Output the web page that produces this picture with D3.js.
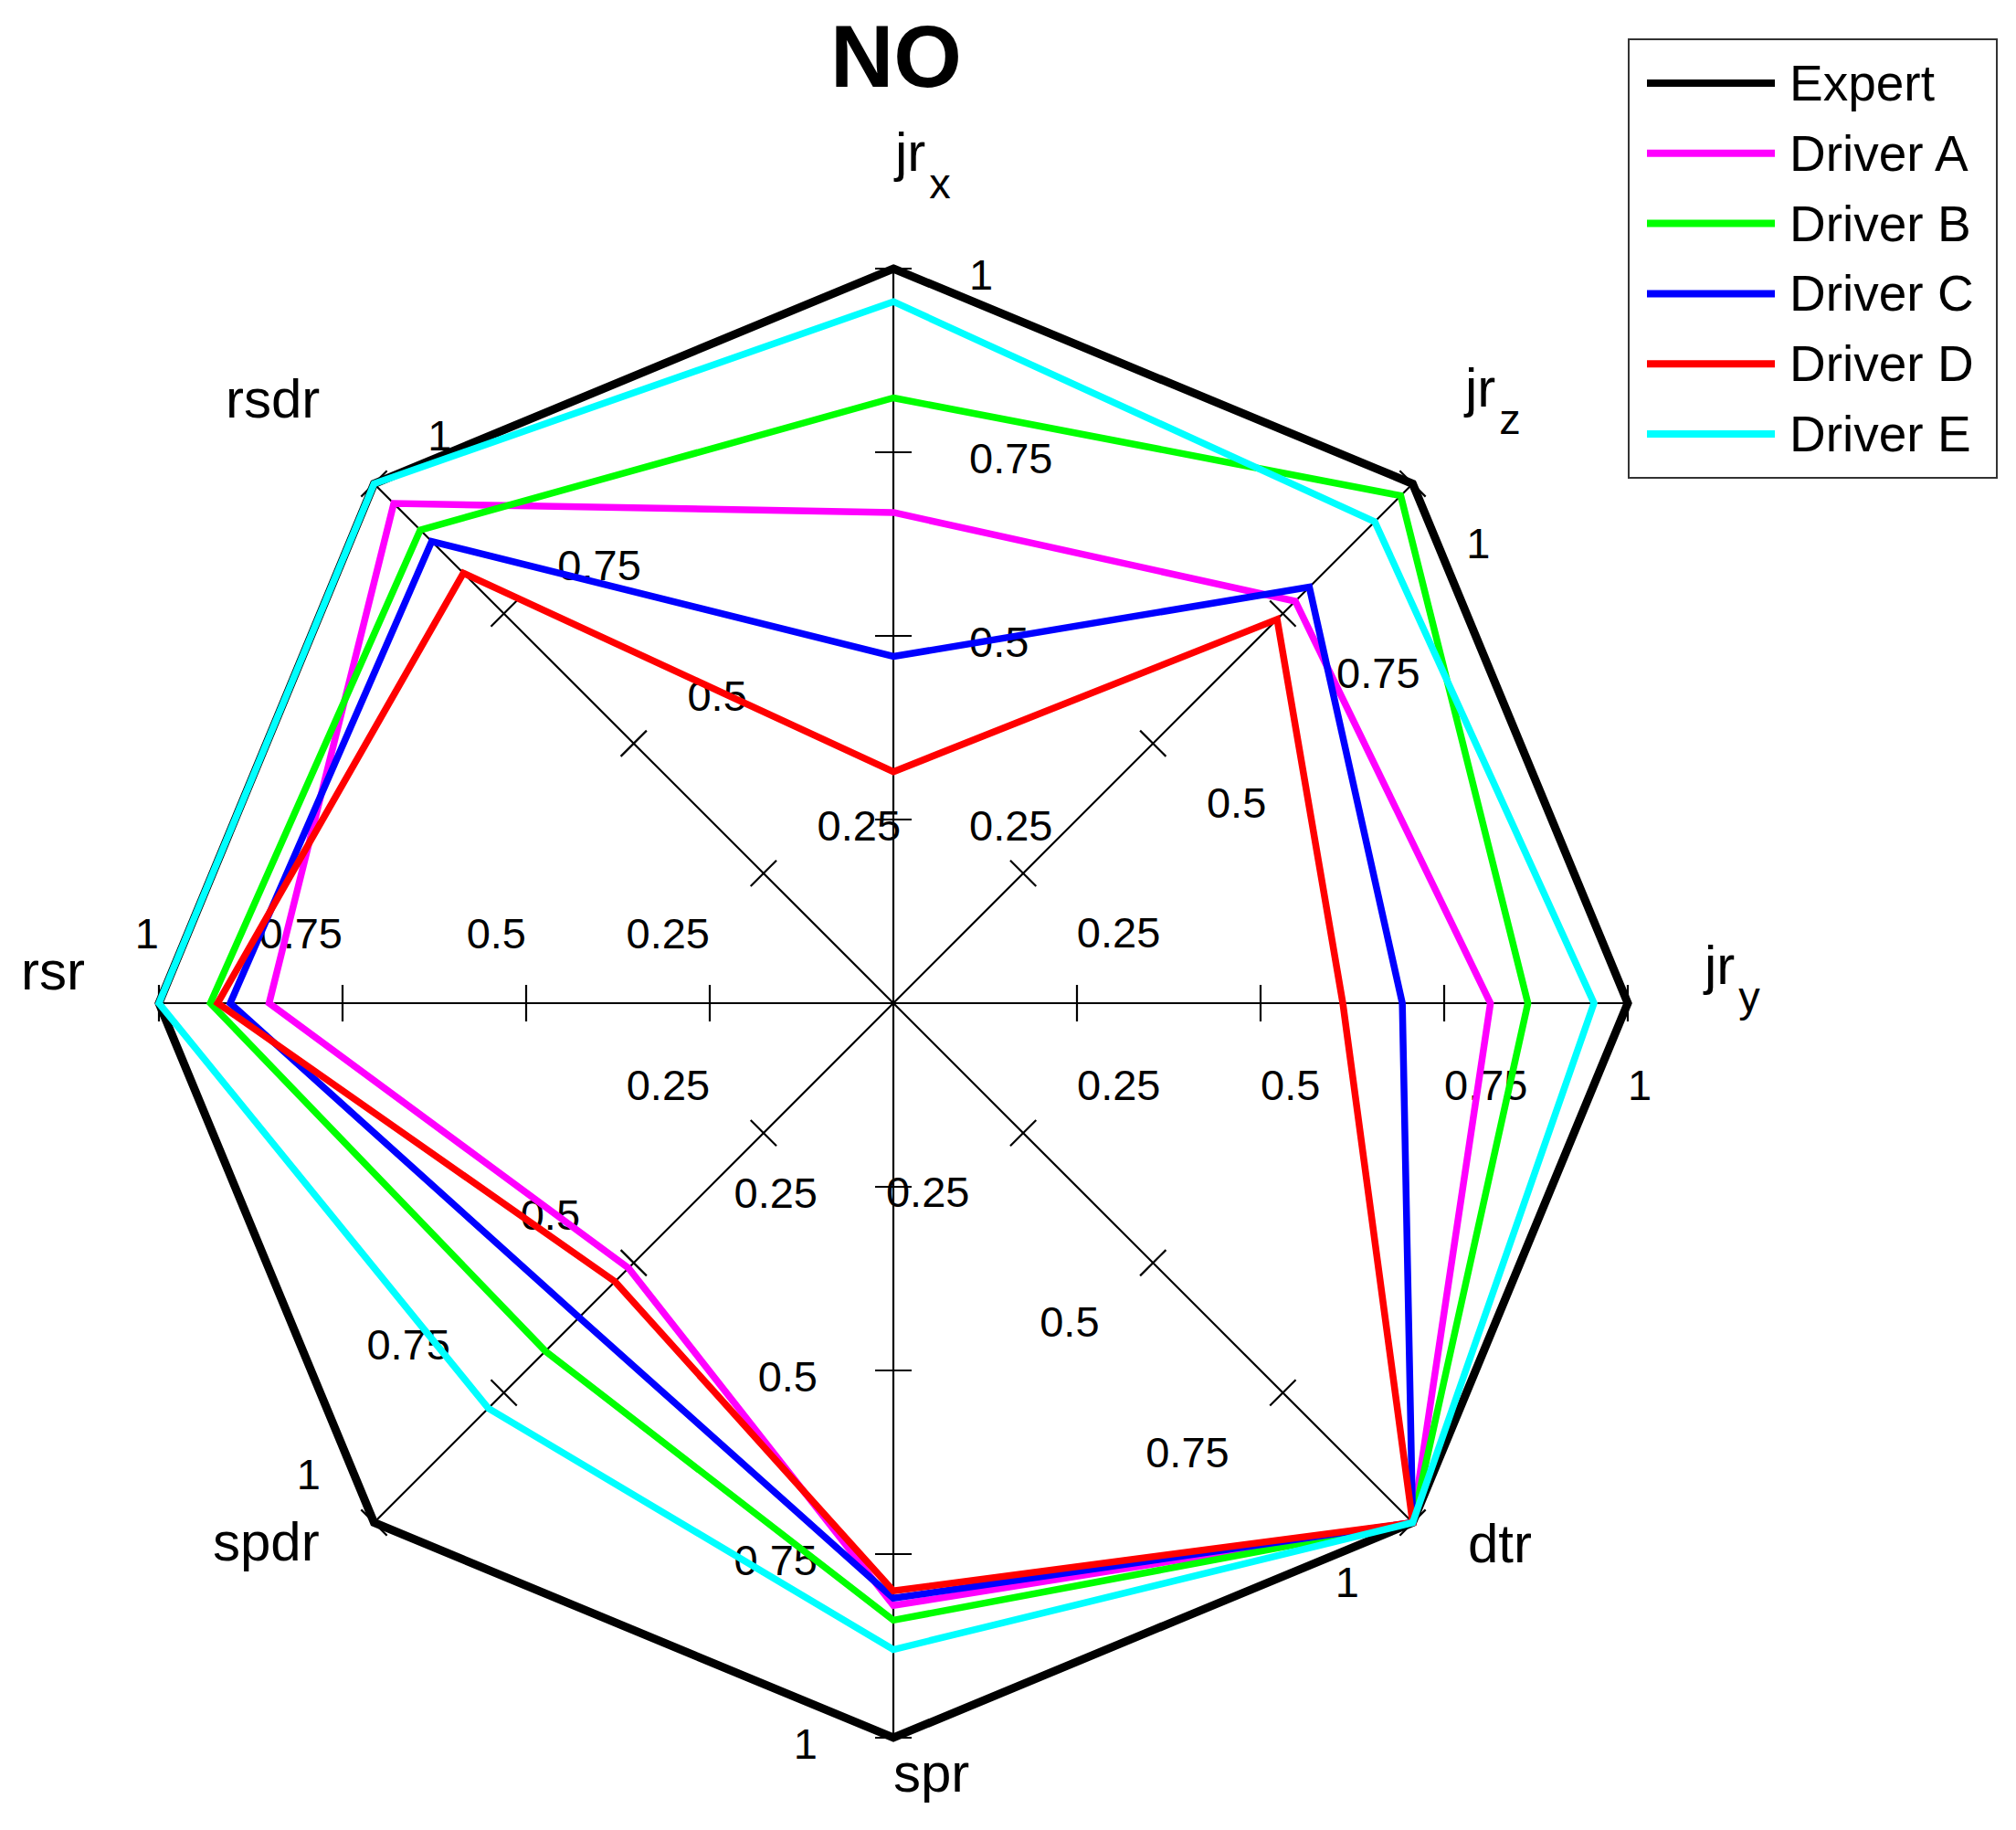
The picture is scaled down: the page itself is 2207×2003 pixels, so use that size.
<!DOCTYPE html>
<html><head><meta charset="utf-8">
<script src="https://cdn.jsdelivr.net/npm/d3@7"></script>
<style>body{margin:0;background:#fff} svg{display:block}</style>
</head><body>
<script>
// ---------- data ----------
const axes = ["jr_x","jr_z","jr_y","dtr","spr","spdr","rsr","rsdr"];
const axisMain = ["jr","jr","jr","dtr","spr","spdr","rsr","rsdr"];
const axisSub  = ["x","z","y","","","","",""];
const tickValues = [0.25, 0.5, 0.75, 1];
const tickLabels = ["0.25", "0.5", "0.75", "1"];
const seriesNames = ["Expert","Driver A","Driver B","Driver C","Driver D","Driver E"];
const expert  = [1, 1, 1, 1, 1, 1, 1, 1];
const driverA = [0.668, 0.774, 0.813, 1, 0.82, 0.51, 0.85, 0.962];
const driverB = [0.824, 0.977, 0.864, 1, 0.84, 0.67, 0.93, 0.911];
const driverC = [0.472, 0.801, 0.693, 1, 0.81, 0.605, 0.903, 0.889];
const driverD = [0.315, 0.739, 0.612, 1, 0.80, 0.536, 0.92, 0.828];
const driverE = [0.955, 0.927, 0.954, 1, 0.88, 0.78, 1.0, 1.0];
const seriesValues = [expert, driverA, driverB, driverC, driverD, driverE];
const seriesColors = ["#000000","#ff00ff","#00ff00","#0000ff","#ff0000","#00ffff"];

// ---------- layout ----------
const W = 2207, H = 2003, cx = 978, cy = 1098, R = 804;
// axis-name anchor (start, baseline) relative to centre
const labelOffsets = [[2,-911],[626,-653],[888,-21],[629,612],[0,863],[-745,610],[-955,-15],[-731,-641]];
const FONT = "Arial, 'Liberation Sans', Helvetica, sans-serif";

const svg = d3.select("body").append("svg").attr("width", W).attr("height", H)
  .style("font-family", FONT);
svg.append("rect").attr("width", W).attr("height", H).attr("fill", "#fff");

const r = d3.scaleLinear().domain([0, 1]).range([0, R]);
const angle = d3.scalePoint().domain(axes).range([0, 2 * Math.PI * 7 / 8]);

const g = svg.append("g").attr("transform", `translate(${cx},${cy})`);
const pt = (a, v) => [Math.sin(a) * r(v), -Math.cos(a) * r(v)];

// tick labels (under everything)
axes.forEach((ax) => {
  const a = angle(ax);
  const px = Math.cos(a), py = Math.sin(a);
  const dx = Math.sin(a);
  tickValues.forEach((t, j) => {
    const [x, y] = pt(a, t);
    let anchor;
    if (px > 0.1) anchor = "start"; else if (px < -0.1) anchor = "end";
    else anchor = dx > 0 ? "start" : "end";
    g.append("text")
      .attr("x", x + 83 * px)
      .attr("y", y + 83 * py + 6)
      .attr("text-anchor", anchor)
      .attr("dominant-baseline", "central")
      .attr("font-size", 47)
      .attr("fill", "#000")
      .text(tickLabels[j]);
  });
});

// axes + ticks
axes.forEach((ax) => {
  const a = angle(ax);
  const [x1, y1] = pt(a, 1);
  g.append("line").attr("x1", 0).attr("y1", 0).attr("x2", x1).attr("y2", y1)
    .attr("stroke", "#000").attr("stroke-width", 2.2);
  const px = Math.cos(a), py = Math.sin(a);
  tickValues.forEach((t) => {
    const [x, y] = pt(a, t);
    g.append("line")
      .attr("x1", x - 20 * px).attr("y1", y - 20 * py)
      .attr("x2", x + 20 * px).attr("y2", y + 20 * py)
      .attr("stroke", "#000").attr("stroke-width", 2.2);
  });
});

// series
const radial = d3.lineRadial()
  .angle((d, i) => angle(axes[i]))
  .radius(d => r(d))
  .curve(d3.curveLinearClosed);
seriesValues.forEach((vals, i) => {
  g.append("path")
    .attr("d", radial(vals))
    .attr("fill", "none")
    .attr("stroke", seriesColors[i])
    .attr("stroke-width", i === 0 ? 9 : 7.5)
    .attr("stroke-linejoin", "miter")
    .attr("stroke-miterlimit", 10);
});

// axis names
axes.forEach((ax, i) => {
  const [ox, oy] = labelOffsets[i];
  const t = g.append("text").attr("x", ox).attr("y", oy)
    .attr("font-size", 60).attr("fill", "#000");
  t.append("tspan").text(axisMain[i]);
  if (axisSub[i]) {
    t.append("tspan").attr("dx", 4).attr("dy", 30).attr("font-size", 47).text(axisSub[i]);
  }
});

// title
svg.append("text").attr("x", 981).attr("y", 95)
  .attr("text-anchor", "middle").attr("font-size", 96).attr("font-weight", "bold")
  .attr("fill", "#000").text("NO");

// legend
const lg = svg.append("g").attr("transform", "translate(1783,43)");
lg.append("rect").attr("x", 0).attr("y", 0).attr("width", 403).attr("height", 480)
  .attr("fill", "#fff").attr("stroke", "#333").attr("stroke-width", 2);
seriesNames.forEach((name, i) => {
  const y = 48 + i * 76.8;
  lg.append("line").attr("x1", 20).attr("x2", 160).attr("y1", y).attr("y2", y)
    .attr("stroke", seriesColors[i]).attr("stroke-width", 8);
  lg.append("text").attr("x", 176).attr("y", y + 19)
    .attr("font-size", 55).attr("fill", "#000").text(name);
});
</script>
</body></html>
